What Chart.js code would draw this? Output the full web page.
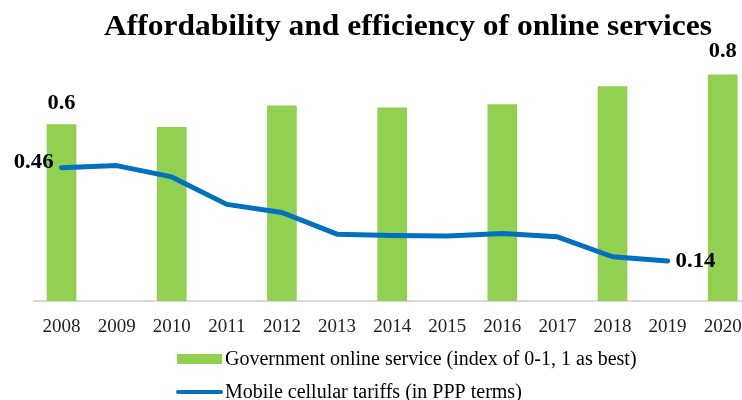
<!DOCTYPE html>
<html>
<head>
<meta charset="utf-8">
<script src="https://cdn.jsdelivr.net/npm/chart.js@4/dist/chart.umd.min.js"></script>
<style>
  html, body { margin: 0; padding: 0; background: #fff; }
  #wrap { width: 742px; height: 400px; position: relative; }
</style>
</head>
<body>
<div id="wrap"><canvas id="chart" width="742" height="400"></canvas></div>
<script>
const chartTitle = "Affordability and efficiency of online services";
const barYears = [2008, 2010, 2012, 2014, 2016, 2018, 2020];
const govService = [0.61, 0.60, 0.675, 0.668, 0.679, 0.741, 0.782];
const lineYears = [2008, 2009, 2010, 2011, 2012, 2013, 2014, 2015, 2016, 2017, 2018, 2019];
const tariffs = [0.461, 0.468, 0.429, 0.334, 0.306, 0.231, 0.226, 0.225, 0.233, 0.222, 0.153, 0.138];
const tickYears = [2008, 2009, 2010, 2011, 2012, 2013, 2014, 2015, 2016, 2017, 2018, 2019, 2020];
const barLabels = ["0.6", "0.8"];
const lineLabels = ["0.46", "0.14"];

const serif = "'Liberation Serif', 'Times New Roman', serif";

// text squeezed/stretched sideways like the original
function wideText(ctx, text, x, y, sx) {
  ctx.save();
  ctx.translate(x, y);
  ctx.scale(sx, 1);
  ctx.fillText(text, 0, 0);
  ctx.restore();
}

// title, value labels and legend drawn by hand
const extras = {
  id: "extras",
  afterDatasetsDraw(chart) {
    const ctx = chart.ctx;
    const bars = chart.getDatasetMeta(0).data;
    const pts = chart.getDatasetMeta(1).data;
    ctx.save();
    ctx.fillStyle = "#000";
    ctx.font = "bold 30px " + serif;
    ctx.textAlign = "center";
    ctx.textBaseline = "alphabetic";
    wideText(ctx, chartTitle, 408, 35, 1.05);

    ctx.font = "bold 20px " + serif;
    ctx.textBaseline = "bottom";
    const b0 = bars[0], b1 = bars[bars.length - 1];
    wideText(ctx, barLabels[0], b0.x, b0.y - 11, 1.12);
    wideText(ctx, barLabels[1], b1.x, b1.y - 13, 1.12);

    ctx.textBaseline = "middle";
    const p0 = pts[0], p1 = pts[pts.length - 1];
    ctx.textAlign = "right";
    wideText(ctx, lineLabels[0], p0.x - 8, p0.y - 5, 1.14);
    ctx.textAlign = "left";
    wideText(ctx, lineLabels[1], p1.x + 8, p1.y + 1, 1.14);

    // legend
    const ds = chart.data.datasets;
    ctx.font = "20px " + serif;
    ctx.fillStyle = ds[0].backgroundColor;
    ctx.fillRect(177, 354, 45, 10);
    ctx.fillStyle = "#000";
    ctx.fillText(ds[0].label, 225, 360);
    ctx.strokeStyle = ds[1].borderColor;
    ctx.lineWidth = 4;
    ctx.lineCap = "round";
    ctx.beginPath();
    ctx.moveTo(178, 392);
    ctx.lineTo(221, 392);
    ctx.stroke();
    ctx.fillText(ds[1].label, 225, 393);
    ctx.restore();
  }
};

new Chart(document.getElementById("chart"), {
  type: "bar",
  data: {
    datasets: [{
      label: "Government online service (index of 0-1, 1 as best)",
      data: barYears.map((y, i) => ({ x: y, y: govService[i] })),
      backgroundColor: "#92d050",
      barThickness: 29,
      order: 1
    }, {
      type: "line",
      label: "Mobile cellular tariffs (in PPP terms)",
      data: lineYears.map((y, i) => ({ x: y, y: tariffs[i] })),
      borderColor: "#0070c0",
      backgroundColor: "#0070c0",
      borderWidth: 5,
      pointRadius: 0,
      tension: 0,
      borderJoinStyle: "round",
      borderCapStyle: "round",
      order: 0
    }]
  },
  options: {
    responsive: false,
    animation: false,
    layout: { padding: { top: 58, left: 34, right: 0, bottom: 0 } },
    plugins: {
      legend: { display: false },
      title: { display: false },
      tooltip: { enabled: false }
    },
    scales: {
      x: {
        type: "linear",
        offset: false,
        min: 2007.5,
        max: 2020.35,
        afterBuildTicks: axis => { axis.ticks = tickYears.map(v => ({ value: v })); },
        afterFit: axis => {
          axis.height = 99;
          axis.paddingLeft = 0;
          axis.paddingRight = 0;
        },
        grid: { display: false, drawTicks: false },
        border: { color: "#d9d9d9", width: 2 },
        ticks: {
          padding: 15,
          maxRotation: 0,
          autoSkip: false,
          color: "#222",
          font: { family: serif, size: 19 },
          callback: v => String(v)
        }
      },
      y: {
        display: false,
        min: 0,
        max: 0.84
      }
    }
  },
  plugins: [extras]
});
</script>
</body>
</html>
